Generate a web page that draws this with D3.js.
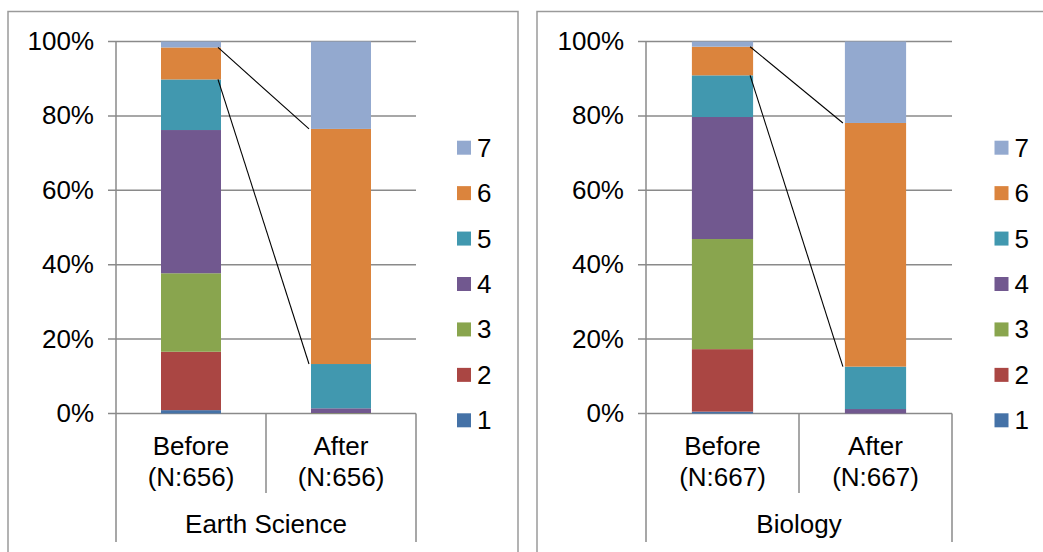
<!DOCTYPE html>
<html>
<head>
<meta charset="utf-8">
<script src="https://cdn.jsdelivr.net/npm/d3@7"></script>
<style>
  html, body { margin: 0; padding: 0; background: #fff; }
  svg { display: block; font-family: "Liberation Sans", Arial, sans-serif; }
</style>
</head>
<body>
<svg id="chart" width="1043" height="552"></svg>
<script>
// ---- data ----
const categories = ["Before", "After"];
const seriesNames = ["1", "2", "3", "4", "5", "6", "7"];
const subjects = ["Earth Science", "Biology"];
const sampleN = [656, 667];
// percentage share of each response level (1..7)
const earthBefore = [0.9, 15.7, 21.1, 38.5, 13.6, 8.6, 1.6];
const earthAfter  = [0.0, 0.0, 0.1, 1.3, 11.9, 63.2, 23.5];
const bioBefore   = [0.5, 16.8, 29.6, 32.8, 11.2, 7.7, 1.4];
const bioAfter    = [0.0, 0.0, 0.0, 1.2, 11.4, 65.5, 21.9];
const tickValues = [0, 20, 40, 60, 80, 100];
const tickLabels = ["0%", "20%", "40%", "60%", "80%", "100%"];
const colors = ["#4572A7", "#AA4643", "#89A54E", "#71588F", "#4198AF", "#DB843D", "#93A9CF"];

const panelData = [
  { subject: subjects[0], n: sampleN[0], values: [earthBefore, earthAfter] },
  { subject: subjects[1], n: sampleN[1], values: [bioBefore, bioAfter] }
];

// ---- layout ----
const svg = d3.select("#chart");
const gridColor = "#8a8a8a";
const FONT = 26;
const panels = [
  { frameL: 8, frameR: 518, L: 116, R: 416, legendX: 457 },
  { frameL: 537, frameR: 1060, L: 646, R: 952, legendX: 994.5 }
];
const y = d3.scaleLinear().domain([0, 100]).range([413.5, 41.5]);
const color = d3.scaleOrdinal().domain(seriesNames).range(colors);

panels.forEach((p, pi) => {
  const d = panelData[pi];
  const g = svg.append("g");

  // frame
  g.append("path")
    .attr("d", `M${p.frameL},560 V11.5 H${p.frameR} V560`)
    .attr("fill", "none").attr("stroke", "#9a9a9a").attr("stroke-width", 1.5);

  const x = d3.scaleBand().domain(categories).range([p.L, p.R])
    .paddingInner(0.6).paddingOuter(0.3);

  // gridlines + ticks
  g.selectAll("line.grid").data(tickValues).join("line")
    .attr("x1", p.L - 8).attr("x2", p.R)
    .attr("y1", v => y(v)).attr("y2", v => y(v))
    .attr("stroke", gridColor).attr("stroke-width", 1.5);

  // tick labels
  g.selectAll("text.tick").data(tickValues).join("text")
    .attr("x", p.L - 22).attr("y", v => y(v) + 8.5)
    .attr("text-anchor", "end").attr("font-size", FONT).attr("fill", "#000")
    .text((v, i) => tickLabels[i]);

  // y axis line
  g.append("line").attr("x1", p.L).attr("x2", p.L).attr("y1", y(100)).attr("y2", 542)
    .attr("stroke", gridColor).attr("stroke-width", 1.5);
  // category dividers
  const step = x.step();
  const mid = x("After") - x.paddingInner() * step / 2;
  g.append("line").attr("x1", mid).attr("x2", mid).attr("y1", y(0)).attr("y2", 493)
    .attr("stroke", gridColor).attr("stroke-width", 1.5);
  g.append("line").attr("x1", p.R).attr("x2", p.R).attr("y1", y(0)).attr("y2", 542)
    .attr("stroke", gridColor).attr("stroke-width", 1.5);

  // stacked bars
  const rows = categories.map((c, ci) => {
    const o = { cat: c };
    seriesNames.forEach((s, si) => o[s] = d.values[ci][si]);
    return o;
  });
  const stacked = d3.stack().keys(seriesNames)(rows);
  stacked.forEach(layer => {
    g.selectAll(null).data(layer).join("rect")
      .attr("x", dd => x(dd.data.cat))
      .attr("width", x.bandwidth())
      .attr("y", dd => y(dd[1]))
      .attr("height", dd => Math.max(0, y(dd[0]) - y(dd[1])))
      .attr("fill", color(layer.key));
  });

  // series lines (for level 6: its top and bottom)
  const s6 = stacked[5];
  [[s6[0][1], s6[1][1]], [s6[0][0], s6[1][0]]].forEach(([a, b]) => {
    g.append("line")
      .attr("x1", x("Before") + x.bandwidth() - 3).attr("y1", y(a))
      .attr("x2", x("After") - 2).attr("y2", y(b))
      .attr("stroke", "#000").attr("stroke-width", 1.1);
  });

  // category labels
  categories.forEach(c => {
    const cx = x(c) + x.bandwidth() / 2;
    g.append("text").attr("x", cx).attr("y", 455).attr("text-anchor", "middle")
      .attr("font-size", FONT).text(c);
    g.append("text").attr("x", cx).attr("y", 486).attr("text-anchor", "middle")
      .attr("font-size", FONT).text(`(N:${d.n})`);
  });
  g.append("text").attr("x", mid).attr("y", 533).attr("text-anchor", "middle")
    .attr("font-size", FONT).text(d.subject);

  // legend (7 on top)
  const legendOrder = seriesNames.slice().reverse();
  const ly = d3.scalePoint().domain(legendOrder).range([147.7, 420.3]);
  legendOrder.forEach(s => {
    g.append("rect").attr("x", p.legendX).attr("y", ly(s) - 7).attr("width", 14).attr("height", 14)
      .attr("fill", color(s));
    g.append("text").attr("x", p.legendX + 20).attr("y", ly(s) + 9)
      .attr("font-size", FONT).text(s);
  });
});
</script>
</body>
</html>
